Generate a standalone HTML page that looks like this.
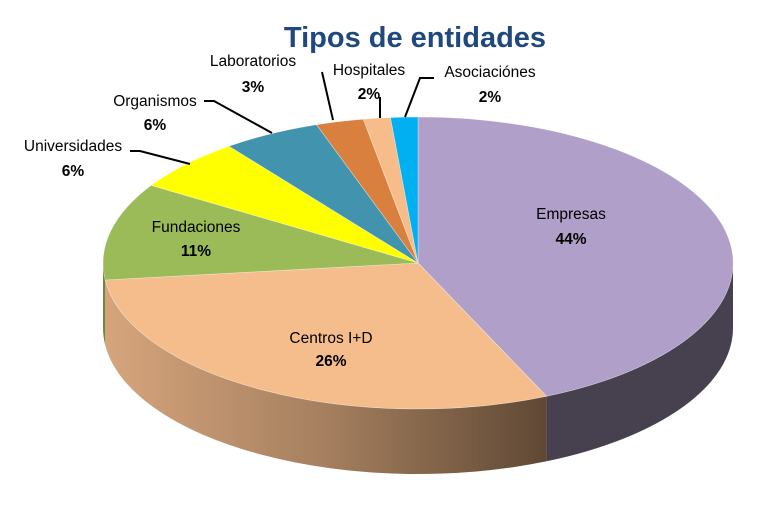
<!DOCTYPE html>
<html><head><meta charset="utf-8"><style>
html,body{margin:0;padding:0;background:#fff;}
svg text{font-family:"Liberation Sans",sans-serif;}
</style></head><body>
<svg width="767" height="514" viewBox="0 0 767 514" xmlns="http://www.w3.org/2000/svg">
<defs>
<linearGradient id="cg" x1="105" y1="0" x2="547" y2="0" gradientUnits="userSpaceOnUse">
<stop offset="0" stop-color="#d6a57c"/><stop offset="0.5" stop-color="#a57f5f"/><stop offset="1" stop-color="#5f4834"/>
</linearGradient>
</defs>
<text x="415" y="47" text-anchor="middle" font-size="29" font-weight="bold" fill="#1f497d">Tipos de entidades</text>
<!-- sides -->
<path d="M733,263 L733,328 A315,146 0 0 1 546.6,461.3 L546.6,396.3 A315,146 0 0 0 733,263 Z" fill="#46404f"/>
<path d="M546.6,396.3 L546.6,461.3 A315,146 0 0 1 105.2,345 L105.2,280 A315,146 0 0 0 546.6,396.3 Z" fill="url(#cg)"/>
<path d="M105.2,280 L105.2,345 A315,146 0 0 1 103,328 L103,263 A315,146 0 0 0 105.2,280 Z" fill="#6f8a3e"/>
<!-- top -->
<g stroke="#ffffff" stroke-width="0.6" stroke-opacity="0.5">
<path d="M418,263 L418,117 A315,146 0 0 1 546.6,396.3 Z" fill="#b09fc8"/>
<path d="M418,263 L546.6,396.3 A315,146 0 0 1 105.2,280 Z" fill="#f5bd8b"/>
<path d="M418,263 L105.2,280 A315,146 0 0 1 151.2,185.4 Z" fill="#9bbb59"/>
<path d="M418,263 L151.2,185.4 A315,146 0 0 1 229,146.2 Z" fill="#ffff00"/>
<path d="M418,263 L229,146.2 A315,146 0 0 1 316.5,124.7 Z" fill="#4293ad"/>
<path d="M418,263 L316.5,124.7 A315,146 0 0 1 363.3,119.2 Z" fill="#d9803e"/>
<path d="M418,263 L363.3,119.2 A315,146 0 0 1 390.5,117.6 Z" fill="#f6bd8a"/>
<path d="M418,263 L390.5,117.6 A315,146 0 0 1 418,117 Z" fill="#00b0f0"/>
</g>
<!-- leader lines -->
<g stroke="#000" stroke-width="2" fill="none">
<polyline points="322,72 333,120"/>
<polyline points="380,97 380,118"/>
<polyline points="434,78 420,78 405,117"/>
<polyline points="204,101 214,101 272,133"/>
<polyline points="130,151 140,151 190,164"/>
</g>
<g font-size="15.5" fill="#000" text-anchor="middle">
<text x="253" y="66">Laboratorios</text><text x="253" y="92" font-weight="bold">3%</text>
<text x="369" y="75">Hospitales</text><text x="369" y="99" font-weight="bold">2%</text>
<text x="490" y="77">Asociaciónes</text><text x="490" y="102" font-weight="bold">2%</text>
<text x="155" y="106">Organismos</text><text x="155" y="130" font-weight="bold">6%</text>
<text x="73" y="151">Universidades</text><text x="73" y="176" font-weight="bold">6%</text>
<text x="196" y="232">Fundaciones</text><text x="196" y="256" font-weight="bold">11%</text>
<text x="571" y="219">Empresas</text><text x="571" y="244" font-weight="bold">44%</text>
<text x="331" y="343">Centros I+D</text><text x="331" y="366" font-weight="bold">26%</text>
</g>
</svg>
</body></html>
